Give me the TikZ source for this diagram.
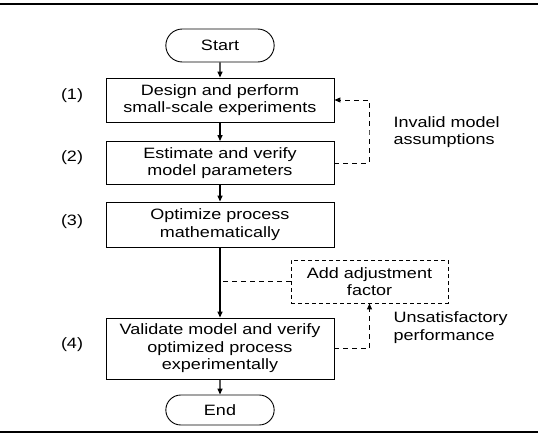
\documentclass[tikz,border=0pt]{standalone}
\usepackage{fontspec}
\setmainfont[FakeStretch=1.2]{Liberation Sans}
\usetikzlibrary{arrows.meta,calc,positioning,shapes.misc}
\tikzset{
  txt/.style={font=\fontsize{15}{17.5}\selectfont},
  stepbox/.style={txt,draw=black,line width=0.9pt,minimum width=228pt,align=center},
  termbox/.style={txt,draw=black,line width=0.9pt,rounded rectangle,minimum width=115pt,minimum height=33pt},
  numlabel/.style={txt},
  sidetext/.style={txt,anchor=west,align=left},
  flow/.style={draw=black,line width=1.3pt},
  fb/.style={draw=black,line width=1pt,dash pattern=on 5pt off 4pt}
}

\begin{document}
\begin{tikzpicture}[x=1pt,y=-1pt,>={Triangle[length=6pt,width=5pt]}]
\useasboundingbox (0,0) rectangle (538,436);
% rules at top and bottom
\draw[line width=1.8pt] (0,4) -- (538,4);
\draw[line width=1.8pt] (0,432) -- (538,432);

% main column
\node[termbox] (start) at (220,45.5) {Start};
\node[stepbox,minimum height=44pt] (s1) at (220,100) {Design and perform\\small-scale experiments};
\node[stepbox,minimum height=43pt] (s2) at (220,163) {Estimate and verify\\model parameters};
\node[stepbox,minimum height=45pt] (s3) at (220,224.5) {Optimize process\\mathematically};
\node[stepbox,minimum height=61pt] (s4) at (220,348.5) {Validate model and verify\\optimized process\\experimentally};
\node[termbox,minimum height=30pt] (end) at (220,410) {End};

% step numbers
\node[numlabel] (n1) at (72,96) {(1)};
\node[numlabel] (n2) at (72,158) {(2)};
\node[numlabel] (n3) at (72,222) {(3)};
\node[numlabel] (n4) at (72,345) {(4)};

\draw[flow,->] (start) -- (s1);
\draw[flow,->] (s1) -- (s2);
\draw[flow,->] (s2) -- (s3);
\draw[flow,->] (s3) -- (s4);
\draw[flow,->] (s4) -- (end);

% feedback loops
\coordinate (loopA) at (369,130);
\draw[fb,->] (s2.east) -| (loopA) |- (s1.east);
\node[sidetext] (inv) at (390,132) {Invalid model\\assumptions};

\node[txt,draw=black,line width=0.9pt,dash pattern=on 4pt off 3pt,minimum width=157pt,minimum height=43pt,align=center] (adj) at (369.5,281.5) {Add adjustment\\factor};
\draw[fb] (adj.west) -- (adj.west -| s3.south);
\draw[fb,->] (s4.east) -| (adj.south);
\node[sidetext] (unsat) at (390,327.5) {Unsatisfactory\\performance};
\end{tikzpicture}
\end{document}
